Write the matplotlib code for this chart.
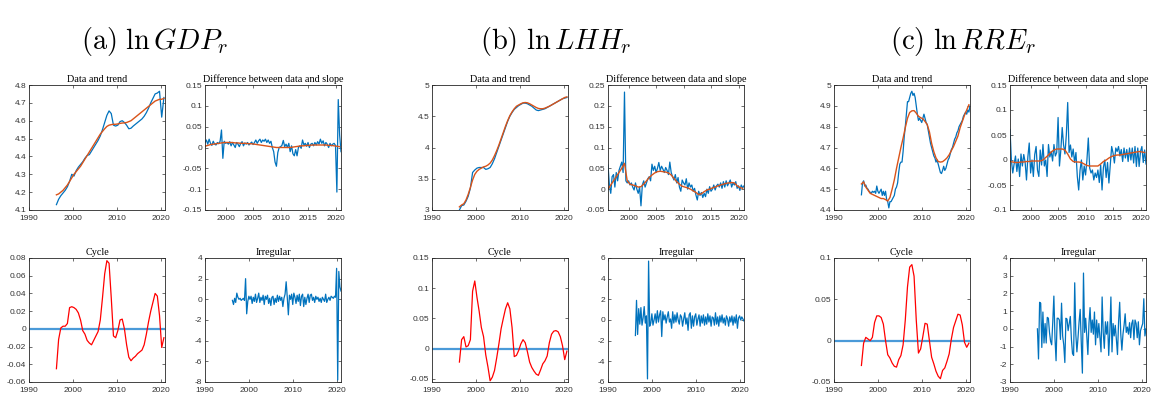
import matplotlib.pyplot as plt
import numpy as np

plt.rcParams['font.family'] = 'Liberation Sans'
plt.rcParams['mathtext.fontset'] = 'cm'
plt.rcParams['axes.unicode_minus'] = False

# quarterly dates (1996Q2 .. 2021Q1) and half-year dates for smooth components
tq = np.arange(1996.25, 2021.01, 0.25)
th = np.arange(1996.25, 2021.0, 0.5)

# ---------------- (a) ln GDP_r ----------------
data_a = [4.13, 4.16, 4.18, 4.195, 4.21, 4.23, 4.26, 4.30, 4.29, 4.32,
          4.34, 4.355, 4.37, 4.39, 4.405, 4.41, 4.43, 4.45, 4.47, 4.49,
          4.515, 4.55, 4.59, 4.63, 4.655, 4.64, 4.575, 4.57, 4.575, 4.595,
          4.60, 4.59, 4.575, 4.555, 4.558, 4.57, 4.58, 4.59, 4.60, 4.61,
          4.625, 4.645, 4.67, 4.70, 4.725, 4.75, 4.755, 4.765, 4.62, 4.73]
trend_a = [4.185, 4.19, 4.20, 4.21, 4.225, 4.24, 4.26, 4.28, 4.30, 4.315,
           4.33, 4.345, 4.365, 4.385, 4.405, 4.425, 4.445, 4.465, 4.485, 4.505,
           4.525, 4.54, 4.555, 4.568, 4.575, 4.578, 4.58, 4.58, 4.582, 4.585,
           4.587, 4.588, 4.59, 4.595, 4.60, 4.61, 4.62, 4.63, 4.64, 4.65,
           4.66, 4.67, 4.68, 4.69, 4.70, 4.71, 4.715, 4.72, 4.72, 4.725]
diff_a = [0.012, 0.018, 0.008, 0.02,
          0.01, 0.005, 0.015, 0.008,
          0.006, 0.012, 0.009, 0.015,
          0.042, -0.026, 0.015, 0.01,
          0.012, 0.008, 0.014, 0.004,
          0.012, 0.006, 0.0, 0.012,
          0.008, 0.002, 0.01, 0.014,
          0.004, 0.011, 0.008, 0.012,
          0.006, 0.01, 0.013, 0.007,
          0.012, 0.018, 0.01, 0.016,
          0.02, 0.012, 0.018, 0.015,
          0.02, 0.012, 0.018, 0.01,
          0.015, 0.0, -0.01, -0.035,
          -0.045, -0.012, 0.0, 0.002,
          0.005, 0.017, 0.002, 0.008,
          0.0, 0.01, -0.01, 0.004,
          -0.015, -0.02, -0.005, -0.02,
          0.0, 0.004, -0.002, 0.018,
          0.006, 0.01, 0.003, 0.012,
          0.0, 0.008, 0.01, 0.004,
          0.012, 0.006, 0.014, 0.008,
          0.02, 0.01, 0.016, 0.004,
          0.012, 0.008, 0.0, 0.01,
          0.004, 0.008, 0.01, 0.005,
          -0.107, 0.115, 0.03, -0.01]
slope_a = [0.003, 0.005, 0.007, 0.008, 0.009, 0.010, 0.011, 0.012, 0.012, 0.012,
           0.012, 0.011, 0.011, 0.010, 0.010, 0.010, 0.009, 0.009, 0.008, 0.007,
           0.006, 0.005, 0.004, 0.003, 0.002, 0.001, 0.0, 0.0, 0.0, 0.0,
           0.0, 0.0, 0.001, 0.002, 0.003, 0.004, 0.004, 0.005, 0.005, 0.006,
           0.006, 0.006, 0.006, 0.006, 0.006, 0.005, 0.005, 0.004, 0.003, 0.002]
cyc_a = [-0.045, -0.012, 0.001, 0.003, 0.003, 0.006, 0.024, 0.025, 0.024, 0.022,
         0.018, 0.01, -0.002, -0.006, -0.013, -0.016, -0.018, -0.013, -0.008, -0.003,
         0.01, 0.035, 0.062, 0.077, 0.074, 0.035, -0.008, -0.01, -0.002, 0.01,
         0.011, 0.0, -0.018, -0.032, -0.036, -0.033, -0.031, -0.028, -0.026, -0.024,
         -0.018, -0.006, 0.008, 0.02, 0.03, 0.04, 0.037, 0.015, -0.021, -0.01]
irr_a = [-0.1, -0.5, 0.1, -0.3,
         0.6, 0.2, 0.0, 0.1,
         -0.1, 0.0, 0.1, -0.1,
         2.0, -1.4, -0.2, 0.3,
         0.0, 0.3, -0.4, 0.2,
         -0.2, 0.5, -0.3, 0.1,
         0.6, -0.3, 0.2, -0.1,
         0.4, -0.5, 0.3, 0.0,
         0.4, -0.4, 0.1, -0.6,
         0.2, 0.3, -0.5, 0.1,
         -0.3, 0.4, -0.2, 0.3,
         -0.1, 0.2, -0.7, 0.1,
         0.5, 1.7, 0.2, -1.5,
         0.4, 0.0, 0.5, -0.5,
         0.6, 0.2, -0.4, 0.4,
         -0.2, 0.5, -0.6, 0.3,
         0.5, -0.7, 0.2, -0.5,
         0.1, 0.5, -0.3, 0.4,
         0.5, -0.1, 0.2, -0.3,
         0.3, 0.0, 0.2, -0.2,
         0.1, -0.3, 0.2, 0.0,
         -0.2, 0.5, -0.3, 0.0,
         0.2, -0.1, 0.3, 0.2,
         0.1, 0.3, 0.2, 3.0,
         -7.8, 2.7, 1.2, 0.8]

# ---------------- (b) ln LHH_r ----------------
data_b = [3.0, 3.07, 3.08, 3.14, 3.22, 3.35, 3.6, 3.64, 3.67, 3.68,
          3.68, 3.68, 3.65, 3.66, 3.68, 3.74, 3.82, 3.92, 4.02, 4.12,
          4.22, 4.32, 4.42, 4.5, 4.56, 4.61, 4.64, 4.67, 4.69, 4.71,
          4.71, 4.7, 4.68, 4.66, 4.63, 4.6, 4.59, 4.6, 4.61, 4.62,
          4.64, 4.66, 4.68, 4.7, 4.72, 4.74, 4.76, 4.78, 4.79, 4.8]
trend_b = [3.05, 3.08, 3.1, 3.16, 3.25, 3.36, 3.48, 3.57, 3.62, 3.65,
           3.67, 3.69, 3.7, 3.72, 3.75, 3.8, 3.87, 3.95, 4.04, 4.14,
           4.24, 4.34, 4.43, 4.51, 4.57, 4.62, 4.66, 4.68, 4.7, 4.715,
           4.72, 4.715, 4.7, 4.68, 4.66, 4.64, 4.625, 4.62, 4.62, 4.63,
           4.645, 4.66, 4.68, 4.7, 4.72, 4.74, 4.76, 4.78, 4.8, 4.81]
diff_b = [0.058, 0.01, -0.01, 0.03,
          0.035, 0.005, 0.04, 0.02,
          0.045, 0.055, 0.065, 0.04,
          0.233, 0.02, 0.015, 0.02,
          0.01, 0.015, 0.005, -0.002,
          0.015, 0.0, -0.01, 0.005,
          -0.04, 0.01, 0.02, 0.005,
          0.015, 0.025, 0.03, 0.02,
          0.06, 0.045, 0.055, 0.04,
          0.05, 0.064, 0.045, 0.055,
          0.048, 0.04, 0.052, 0.045,
          0.035, 0.065, 0.04, 0.03,
          0.022, 0.035, 0.015, 0.028,
          0.005, -0.005, 0.022, 0.015,
          0.01, 0.025, 0.0, 0.015,
          0.005, 0.01, -0.005, 0.002,
          -0.014, -0.026, -0.005, -0.015,
          -0.008, -0.02, -0.01, -0.018,
          0.0, -0.01, 0.006, -0.005,
          0.0, 0.01, -0.002, 0.008,
          0.012, 0.005, 0.015, 0.002,
          0.018, 0.005, 0.02, 0.008,
          0.015, 0.022, 0.005, 0.015,
          0.01, 0.018, 0.002, 0.008,
          -0.003, 0.01, 0.003, 0.008]
slope_b = [0.0, 0.01, 0.02, 0.03, 0.04, 0.05, 0.062, 0.02, 0.012, 0.01,
           0.008, 0.005, 0.006, 0.012, 0.02, 0.028, 0.034, 0.039, 0.042, 0.043,
           0.042, 0.041, 0.039, 0.034, 0.026, 0.018, 0.012, 0.007, 0.005, 0.003,
           0.0, -0.004, -0.008, -0.013, -0.011, -0.006, -0.002, 0.0, 0.003, 0.005,
           0.008, 0.01, 0.012, 0.014, 0.015, 0.016, 0.015, 0.008, 0.004, 0.002]
cyc_b = [-0.022, 0.015, 0.02, 0.003, 0.005, 0.015, 0.095, 0.112, 0.085, 0.062,
         0.035, 0.02, -0.01, -0.03, -0.053, -0.047, -0.036, -0.015, 0.008, 0.033,
         0.05, 0.066, 0.076, 0.066, 0.035, -0.013, -0.011, -0.003, 0.008, 0.015,
         0.01, -0.005, -0.022, -0.031, -0.037, -0.042, -0.044, -0.035, -0.025, -0.02,
         -0.012, 0.01, 0.024, 0.029, 0.03, 0.028, 0.02, 0.005, -0.018, -0.004]
irr_b = [-1.5, 1.9, -1.4, 1.1,
         -0.4, 1.2, -0.5, 0.2,
         1.3, -0.3, 0.4, -5.7,
         5.7, -0.6, -0.3, 0.6,
         -0.5, 0.0, 0.6, -0.3,
         0.9, -0.2, 0.5, 0.9,
         -1.6, 0.8, 0.0, 0.5,
         -0.3, 0.3, 0.8, -0.2,
         0.1, -0.8, 0.8, -0.3,
         0.5, -0.2, 0.7, 0.0,
         -0.4, 0.5, 0.3, -0.6,
         0.1, 0.7, -0.4, 0.2,
         -1.0, 0.5, 0.7, -0.8,
         0.4, -0.6, 0.3, 0.6,
         -0.5, 0.1, 0.5, -0.6,
         0.4, -0.3, 0.5, -0.5,
         0.3, -0.4, 0.6, -0.2,
         0.4, -0.6, 0.3, 0.2,
         -0.5, 0.7, -0.4, 0.3,
         -0.6, 0.4, -0.2, 0.5,
         -0.3, 0.2, -0.5, 0.4,
         0.1, -0.6, 0.3, -0.2,
         0.4, -0.5, 0.3, -0.3,
         0.5, -0.8, 0.2, 0.4,
         0.0, 0.3, 0.1, -0.1]

# ---------------- (c) ln RRE_r ----------------
data_c = [4.473, 4.53, 4.54, 4.515,
          4.52, 4.505, 4.50, 4.49,
          4.485, 4.48, 4.49, 4.485,
          4.49, 4.48, 4.515, 4.49,
          4.48, 4.49, 4.50, 4.47,
          4.49, 4.47, 4.49, 4.45,
          4.44, 4.41, 4.44, 4.44,
          4.45, 4.46, 4.47, 4.50,
          4.51, 4.53, 4.58, 4.62,
          4.63, 4.63, 4.68, 4.75,
          4.80, 4.86, 4.92, 4.92,
          4.94, 4.96, 4.97, 4.95,
          4.96, 4.94, 4.90, 4.86,
          4.83, 4.84, 4.83, 4.82,
          4.84, 4.86, 4.84, 4.82,
          4.81, 4.78, 4.75, 4.72,
          4.70, 4.68, 4.66, 4.65,
          4.63, 4.64, 4.62, 4.60,
          4.58, 4.575, 4.59, 4.61,
          4.59, 4.60, 4.62, 4.64,
          4.65, 4.67, 4.69, 4.70,
          4.72, 4.74, 4.75, 4.77,
          4.78, 4.80, 4.81, 4.82,
          4.83, 4.85, 4.86, 4.87,
          4.86, 4.88, 4.87, 4.90]
trend_c = [4.525, 4.535, 4.51, 4.495, 4.48, 4.475, 4.47, 4.465, 4.46, 4.455,
           4.455, 4.45, 4.443, 4.46, 4.50, 4.545, 4.60, 4.65, 4.70, 4.745,
           4.795, 4.84, 4.868, 4.876, 4.877, 4.865, 4.85, 4.843, 4.838, 4.825,
           4.81, 4.775, 4.72, 4.68, 4.65, 4.633, 4.63, 4.632, 4.64, 4.65,
           4.665, 4.685, 4.705, 4.73, 4.755, 4.795, 4.825, 4.855, 4.88, 4.905]
diff_c = [0.061, 0.0, -0.026, -0.008,
          0.008, -0.023, 0.002, -0.033,
          0.012, -0.012, 0.011, -0.004,
          -0.04, 0.006, 0.034, -0.026,
          0.0, -0.033, 0.011, 0.027,
          -0.02, -0.033, 0.02, -0.01,
          0.031, -0.012, 0.0, -0.033,
          0.031, 0.006, 0.017, -0.002,
          0.031, 0.008, 0.015, 0.085,
          -0.012, 0.02, 0.065, 0.03,
          0.012, 0.05, 0.115, 0.015,
          0.03, 0.006, 0.022, -0.005,
          0.015, -0.033, -0.06, -0.02,
          0.0, -0.04, -0.012, -0.03,
          0.0, 0.044, -0.016, -0.026,
          -0.02, -0.04, -0.026, -0.035,
          -0.02, -0.045, -0.01, -0.06,
          -0.015, 0.0, -0.035, -0.005,
          -0.046, -0.01, 0.027, 0.014,
          -0.006, 0.024, 0.017, 0.027,
          0.008, 0.021, -0.003, 0.024,
          0.004, 0.021, -0.003, 0.024,
          0.0, 0.024, -0.006, 0.027,
          -0.013, 0.024, -0.013, 0.017,
          0.027, -0.005, 0.02, -0.008]
slope_c = [-0.003, -0.004, -0.005, -0.005, -0.004, -0.004, -0.003, -0.003, -0.002, -0.002,
           -0.002, -0.002, 0.0, 0.005, 0.01, 0.016, 0.02, 0.022, 0.022, 0.022,
           0.02, 0.012, 0.002, -0.003, -0.004, -0.004, -0.005, -0.008, -0.011, -0.012,
           -0.012, -0.012, -0.012, -0.008, -0.003, 0.0, 0.004, 0.007, 0.009, 0.01,
           0.01, 0.011, 0.012, 0.013, 0.014, 0.015, 0.016, 0.017, 0.016, 0.015]
cyc_c = [-0.03, -0.003, 0.004, 0.002, 0.0, 0.004, 0.022, 0.03, 0.03, 0.028,
         0.02, 0.0, -0.017, -0.021, -0.027, -0.031, -0.032, -0.023, -0.018, -0.005,
         0.025, 0.065, 0.089, 0.092, 0.078, 0.025, -0.015, -0.01, 0.005, 0.021,
         0.02, 0.0, -0.02, -0.028, -0.037, -0.043, -0.046, -0.036, -0.033, -0.025,
         -0.016, 0.002, 0.016, 0.024, 0.032, 0.031, 0.019, -0.002, -0.008, -0.003]
irr_c = [0.0, -1.7, 1.5, 1.45,
         -1.05, 0.95, -0.8, 0.3,
         -0.8, 0.65, 0.6, -0.2,
         -0.7, -0.9, 0.4, 1.85,
         -0.5, -1.8, 0.6, 0.6,
         0.5, -0.6, 1.45, -0.4,
         -0.9, -1.9, 0.6, 0.55,
         -0.1, 0.3, 0.7, -0.6,
         -1.4, -1.5, 2.6, -0.3,
         -1.3, -0.5, 0.4, 1.1,
         -0.8, -2.5, 3.15, -0.2,
         0.6, -0.4, -1.45, 0.3,
         1.2, -0.2, 0.5, -0.3,
         0.95, -0.9, 0.5, -0.5,
         0.3, -0.5, -1.3, 1.8,
         -0.2, -1.1, 0.4, -0.3,
         0.4, -1.5, -0.2, 1.8,
         -1.3, 0.3, -0.4, 0.2,
         -0.6, -1.45, 0.4, 1.5,
         -0.3, -1.2, -0.3, 0.2,
         0.85, -0.2, 0.1, -0.3,
         0.35, -0.5, 0.3, 0.5,
         -0.6, 0.5, 0.3, -0.5,
         0.4, -0.9, -0.1, 0.1,
         0.3, 1.7, -0.4, 0.0]

panel_titles = [r'$\mathrm{(a)}\ \ln GDP_r$', r'$\mathrm{(b)}\ \ln LHH_r$', r'$\mathrm{(c)}\ \ln RRE_r$']
title_x = [155, 556, 963]
group_left = [29, 432, 834]

yticks_data = [[4.1, 4.2, 4.3, 4.4, 4.5, 4.6, 4.7, 4.8], [3, 3.5, 4, 4.5, 5], [4.4, 4.5, 4.6, 4.7, 4.8, 4.9, 5]]
yticks_diff = [[-0.15, -0.1, -0.05, 0, 0.05, 0.1, 0.15], [-0.05, 0, 0.05, 0.1, 0.15, 0.2, 0.25],
               [-0.1, -0.05, 0, 0.05, 0.1, 0.15]]
yticks_cyc = [[-0.06, -0.04, -0.02, 0, 0.02, 0.04, 0.06, 0.08], [-0.05, 0, 0.05, 0.1, 0.15], [-0.05, 0, 0.05, 0.1]]
ylim_cyc = [(-0.06, 0.08), (-0.055, 0.15), (-0.05, 0.1)]
yticks_irr = [[-8, -6, -4, -2, 0, 2, 4], [-6, -4, -2, 0, 2, 4, 6], [-3, -2, -1, 0, 1, 2, 3, 4]]

BLUE = '#0072BD'
ORANGE = '#D95319'

fig = plt.figure(figsize=(11.54, 3.96), dpi=100)


def box(left, top, width=136, height=125):
    return fig.add_axes([left / 1154, 1 - (top + height) / 396, width / 1154, height / 396])


def style(ax, title, xlim, xticks, yticks, ylim=None):
    ax.set_xlim(xlim)
    ax.set_ylim(ylim if ylim else (yticks[0], yticks[-1]))
    ax.set_xticks(xticks)
    ax.set_yticks(yticks)
    ax.set_yticklabels(['%g' % v for v in yticks])
    ax.tick_params(direction='in', length=2.5, width=0.5, top=True, right=True,
                   labelsize=6.0, colors='#333333')
    ax.tick_params(axis='x', pad=3.5)
    ax.tick_params(axis='y', pad=2)
    for s in ax.spines.values():
        s.set_linewidth(0.6)
        s.set_color('#262626')
    ax.set_title(title, fontsize=7.3, family='Liberation Serif', pad=2.5)


groups = [(data_a, trend_a, diff_a, slope_a, cyc_a, irr_a),
          (data_b, trend_b, diff_b, slope_b, cyc_b, irr_b),
          (data_c, trend_c, diff_c, slope_c, cyc_c, irr_c)]

for i, (dat, trd, dif, slp, cyc, irr) in enumerate(groups):
    x0 = group_left[i]
    fig.text(title_x[i] / 1154, 1 - 42 / 396, panel_titles[i], fontsize=20.5, ha='center', va='center')

    t_dat = tq if len(dat) == len(tq) else th

    ax = box(x0, 85)
    ax.plot(t_dat, dat, color=BLUE, lw=0.9)
    ax.plot(th, trd, color=ORANGE, lw=1.0)
    style(ax, 'Data and trend', (1990, 2021), [1990, 2000, 2010, 2020], yticks_data[i])

    ax = box(x0 + 176, 85)
    ax.plot(tq, dif, color=BLUE, lw=0.9)
    ax.plot(th, slp, color=ORANGE, lw=1.0)
    style(ax, 'Difference between data and slope', (1996.25, 2021), [2000, 2005, 2010, 2015, 2020],
          yticks_diff[i])

    ax = box(x0, 258, height=124)
    ax.axhline(0, color='#4a9ad8', lw=1.6)
    ax.plot(th, cyc, color='red', lw=0.9)
    style(ax, 'Cycle', (1990, 2021), [1990, 2000, 2010, 2020], yticks_cyc[i], ylim_cyc[i])

    ax = box(x0 + 176, 258, height=124)
    ax.plot(tq, irr, color=BLUE, lw=0.9)
    style(ax, 'Irregular', (1990, 2021), [1990, 2000, 2010, 2020], yticks_irr[i])

fig.savefig('out.png', dpi=100)
